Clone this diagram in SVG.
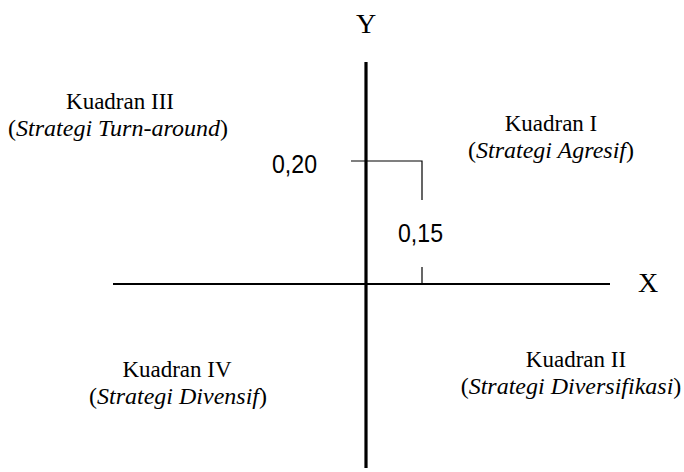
<svg xmlns="http://www.w3.org/2000/svg" width="684" height="472" viewBox="0 0 684 472">
<style>
.t{font-family:"Liberation Serif","Times New Roman",serif;font-size:23px;fill:#000;text-anchor:middle}
.s{font-size:24px}
.i{font-style:italic}
.n{font-family:"Liberation Sans",Arial,sans-serif;font-size:25px;fill:#000}
.ax{stroke:#000;fill:none}
.dim{stroke:#000;stroke-width:1.2;fill:none}
</style>
<rect width="684" height="472" fill="#fff"/>
<g id="connectors">
<line class="ax" x1="113" y1="284" x2="610" y2="284" stroke-width="2.2"/>
<line class="ax" x1="366" y1="62" x2="366" y2="468" stroke-width="3.2"/>
<polyline class="dim" points="351,161 422,161 422,200"/>
<line class="dim" x1="422" y1="267" x2="422" y2="284"/>
</g>
<g id="axis-y"><text class="t" x="366" y="33" style="font-size:28px">Y</text></g>
<g id="axis-x"><text class="t" x="648" y="292" style="font-size:28px">X</text></g>
<g id="val-020"><text class="n" x="272" y="173" textLength="45" lengthAdjust="spacingAndGlyphs">0,20</text></g>
<g id="val-015"><text class="n" x="398" y="242" textLength="45" lengthAdjust="spacingAndGlyphs">0,15</text></g>
<g id="kuadran-3">
<text class="t" x="120" y="109">Kuadran III</text>
<text class="t s" x="118" y="136">(<tspan class="i">Strategi Turn-around</tspan>)</text>
</g>
<g id="kuadran-1">
<text class="t" x="551" y="131">Kuadran I</text>
<text class="t s" x="551" y="158">(<tspan class="i">Strategi Agresif</tspan>)</text>
</g>
<g id="kuadran-4">
<text class="t" x="177" y="377">Kuadran IV</text>
<text class="t s" x="178" y="404">(<tspan class="i">Strategi Divensif</tspan>)</text>
</g>
<g id="kuadran-2">
<text class="t" x="576" y="367">Kuadran II</text>
<text class="t s" x="571" y="394">(<tspan class="i">Strategi Diversifikasi</tspan>)</text>
</g>
</svg>
